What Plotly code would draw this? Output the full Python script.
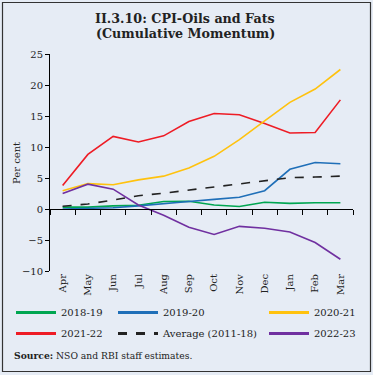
import plotly.graph_objects as go

months = ["Apr", "May", "Jun", "Jul", "Aug", "Sep", "Oct", "Nov", "Dec", "Jan", "Feb", "Mar"]
s2018 = [0.3, 0.3, 0.5, 0.6, 1.2, 1.25, 0.65, 0.4, 1.1, 0.9, 1.0, 1.0]
s2019 = [0.0, 0.1, 0.2, 0.5, 0.8, 1.2, 1.55, 1.9, 2.95, 6.4, 7.5, 7.3]
s2020 = [2.95, 4.1, 3.9, 4.7, 5.3, 6.6, 8.5, 11.2, 14.2, 17.2, 19.35, 22.5]
s2021 = [3.8, 8.8, 11.7, 10.8, 11.8, 14.1, 15.4, 15.2, 13.8, 12.25, 12.35, 17.6]
avg = [0.45, 0.8, 1.45, 2.15, 2.55, 3.05, 3.45, 4.0, 4.5, 5.05, 5.15, 5.3]
s2022 = [2.5, 4.0, 3.2, 0.65, -1.0, -2.95, -4.1, -2.8, -3.1, -3.7, -5.4, -8.1]
yticks = [-10, -5, 0, 5, 10, 15, 20, 25]

series = [
    ("2018-19", s2018, "#00a651", "solid", "legend"),
    ("2021-22", s2021, "#ee1c25", "solid", "legend"),
    ("2019-20", s2019, "#1f6fb8", "solid", "legend2"),
    ("Average (2011-18)", avg, "#222222", "dash", "legend2"),
    ("2020-21", s2020, "#ffc20e", "solid", "legend3"),
    ("2022-23", s2022, "#7030a0", "solid", "legend3"),
]

W, H = 373, 375
L, R, T, B = 50, 20, 54, 104
pw, ph = W - L - R, H - T - B

def px(x):
    return (x - L) / pw

def py(y):
    return (H - B - y) / ph

BG = "#e6ecf5"
FONT = "DejaVu Serif"

fig = go.Figure()
for name, vals, col, dash, lg in series:
    fig.add_trace(go.Scatter(x=months, y=vals, mode="lines", name=name,
                             line=dict(color=col, width=1.6, dash=dash),
                             showlegend=False, hoverinfo="skip"))
for name, vals, col, dash, lg in series:
    fig.add_trace(go.Scatter(x=[None], y=[None], mode="lines", name=name,
                             line=dict(color=col, width=3, dash=dash),
                             legend=lg, legendgroup=name, showlegend=True))

fig.add_trace(go.Scatter(x=months, y=[None] * len(months), xaxis="x2", yaxis="y",
                         mode="lines", showlegend=False, hoverinfo="skip"))

legend_common = dict(orientation="v", yanchor="top", bgcolor="rgba(0,0,0,0)",
                     font=dict(family=FONT, size=10, color="#222"),
                     itemwidth=40, traceorder="grouped", tracegroupgap=2,
                     itemclick=False)

fig.update_layout(
    width=W, height=H,
    margin=dict(l=L, r=R, t=T, b=B, autoexpand=False),
    paper_bgcolor=BG, plot_bgcolor=BG,
    font=dict(family=FONT, size=10, color="#222"),
    xaxis=dict(type="category", range=[-0.5, 11.5], showline=False, ticks="",
               tickangle=-90, showgrid=False, zeroline=False, automargin=False,
               tickfont=dict(family=FONT, size=10)),
    xaxis2=dict(type="category", range=[-0.5, 11.5], overlaying="x", anchor="free",
                position=10 / 35, showline=True, linecolor="#000", linewidth=1,
                ticks="outside", tickson="boundaries", ticklen=5, tickcolor="#000",
                showticklabels=False, showgrid=False, zeroline=False),
    yaxis=dict(range=[-10, 25], tickvals=yticks, showline=True, linecolor="#000",
               linewidth=1, ticks="outside", ticklen=4, tickcolor="#000",
               showgrid=False, zeroline=False, automargin=False),
    legend=dict(x=px(11), y=py(298), **legend_common),
    legend2=dict(x=px(113), y=py(298), **legend_common),
    legend3=dict(x=px(264), y=py(298), **legend_common),
    showlegend=True,
)

fig.add_annotation(text="Per cent", textangle=-90,
                   xref="paper", yref="paper", x=px(16), y=py(163), xanchor="center",
                   yanchor="middle", showarrow=False,
                   font=dict(family=FONT, size=10, color="#222"))
fig.add_annotation(text="<b>II.3.10: CPI-Oils and Fats</b>",
                   xref="paper", yref="paper", x=px(185), y=py(19), xanchor="center",
                   yanchor="middle", showarrow=False,
                   font=dict(family=FONT, size=12.7, color="#222"))
fig.add_annotation(text="<b>(Cumulative Momentum)</b>",
                   xref="paper", yref="paper", x=px(185), y=py(33), xanchor="center",
                   yanchor="middle", showarrow=False,
                   font=dict(family=FONT, size=12.7, color="#222"))
fig.add_annotation(text="<b>Source:</b> NSO and RBI staff estimates.",
                   xref="paper", yref="paper", x=px(12), y=py(355), xanchor="left",
                   yanchor="middle", showarrow=False,
                   font=dict(family=FONT, size=9.2, color="#222"))
fig.add_shape(type="rect", xref="paper", yref="paper",
              x0=px(2.5), x1=px(370.5), y0=py(371.5), y1=py(2.5),
              line=dict(color="#333", width=1.2), fillcolor="rgba(0,0,0,0)", layer="below")

fig.write_html("out.html", config={"displayModeBar": False},
               post_script="document.body.style.margin='0px';")
